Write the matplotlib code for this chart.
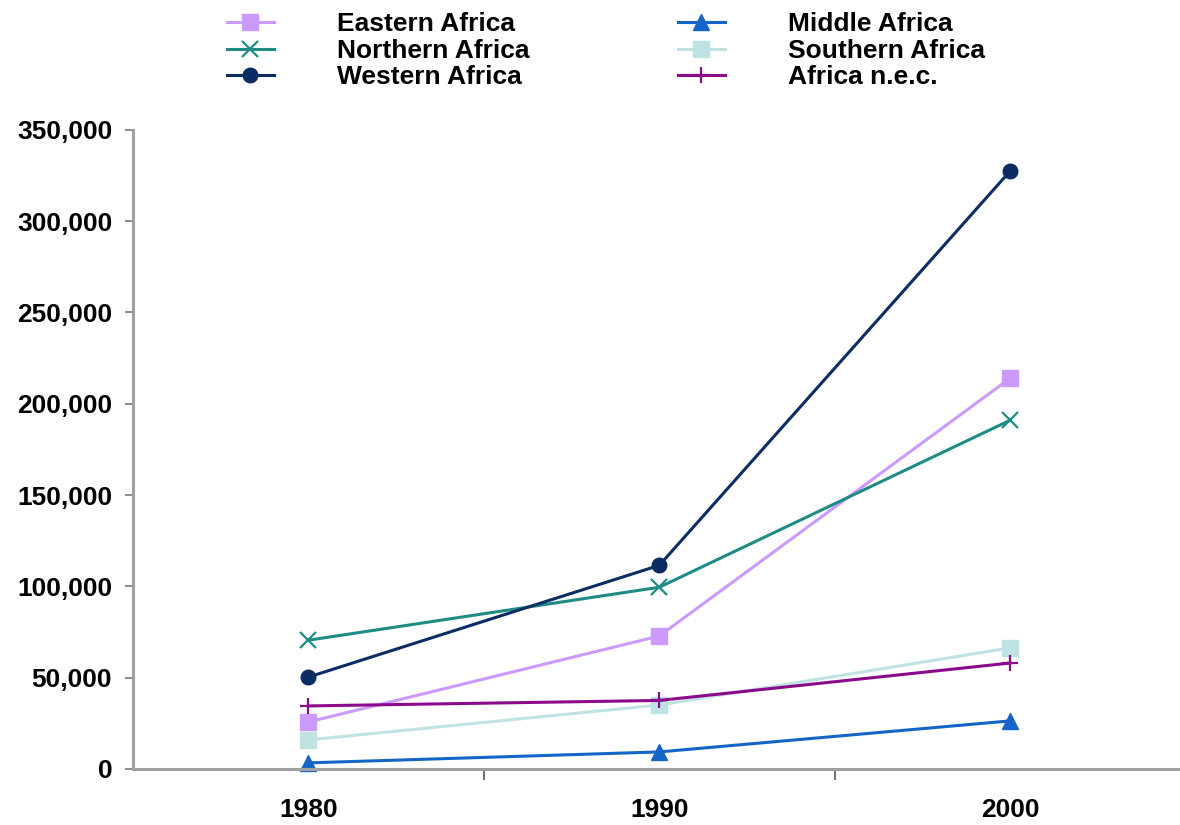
import matplotlib
matplotlib.use("Agg")
import matplotlib.pyplot as plt
from matplotlib.ticker import FuncFormatter, FixedLocator

years = ["1980", "1990", "2000"]

eastern = [25700, 72800, 214000]
northern = [70500, 99500, 191000]
western = [50300, 111500, 327500]
middle = [3300, 9300, 26300]
southern = [15900, 35000, 66300]
africa_nec = [34500, 37500, 58000]

series = [
    ("Eastern Africa", eastern, "#CC99FF", "s", 11),
    ("Northern Africa", northern, "#1E8C84", "x", 11),
    ("Western Africa", western, "#0B2D63", "o", 10.5),
    ("Middle Africa", middle, "#1565C8", "^", 11),
    ("Southern Africa", southern, "#BFE3E3", "s", 12),
    ("Africa n.e.c.", africa_nec, "#8B0A8B", "+", 12),
]

plt.rcParams['font.family'] = ['Liberation Sans', 'DejaVu Sans']
plt.rcParams['font.weight'] = 'bold'

fig = plt.figure(figsize=(11.8, 8.25), dpi=100)
ax = fig.add_axes([0.1127, 0.068, 0.8873, 0.7745])

x = list(range(len(years)))
for name, vals, col, mk, ms in series:
    ax.plot(x, vals, color=col, lw=2.2, marker=mk, markersize=ms,
            markeredgewidth=1.6 if mk in ("x", "+") else 1, label=name, clip_on=False)

ax.set_xlim(-0.5, 2.484)
ax.set_ylim(0, 350000)
ax.set_xticks(x)
ax.set_xticklabels(years)
ax.xaxis.set_minor_locator(FixedLocator([0.5, 1.5]))
ax.tick_params(axis='x', which='major', length=0, pad=21, labelsize=19)
ax.tick_params(axis='x', which='minor', length=8, width=1.2, color='#555555', direction='out')
ax.set_yticks(range(0, 350001, 50000))
ax.yaxis.set_major_formatter(FuncFormatter(lambda v, p: f"{int(v):,}"))
ax.tick_params(axis='y', length=6, width=1.2, color='#777777', labelsize=19, pad=9)

for s in ("top", "right"):
    ax.spines[s].set_visible(False)
for s in ("left", "bottom"):
    ax.spines[s].set_color('#A0A0A0')
    ax.spines[s].set_linewidth(2.2)

handles, labels = ax.get_legend_handles_labels()
leg = fig.legend(handles, labels, ncol=2, loc='upper left',
                 bbox_to_anchor=(0.1834, 0.998), frameon=False,
                 fontsize=19, handlelength=1.78, handletextpad=2.4,
                 columnspacing=5.6, labelspacing=0.1, borderaxespad=0)

plt.savefig("out.png", dpi=100)
